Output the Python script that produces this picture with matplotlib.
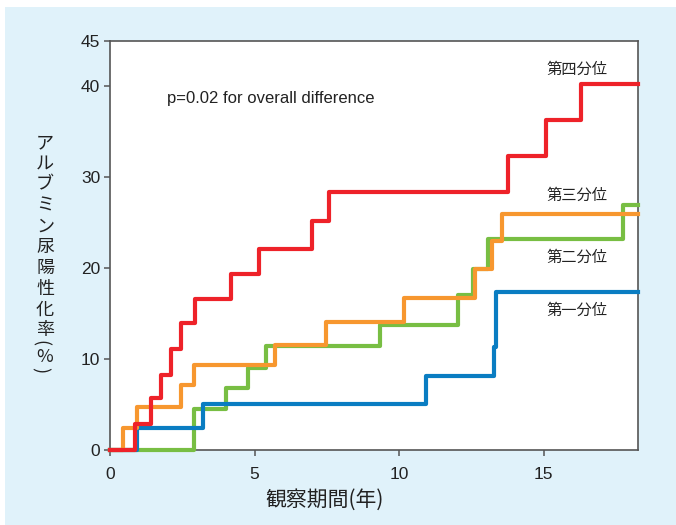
import matplotlib
matplotlib.use("Agg")
import matplotlib.pyplot as plt
from matplotlib.patches import Rectangle

# 観察期間(年) と アルブミン尿陽性化率(%) -- 読み取り値
red_t = [0, 0.86, 1.43, 1.75, 2.10, 2.47, 2.93, 4.18, 5.17, 6.97, 7.56, 13.76, 15.07, 16.29, 18.26]
red_y = [0, 2.9, 5.7, 8.3, 11.1, 14.0, 16.6, 19.4, 22.1, 25.2, 28.4, 32.4, 36.3, 40.3, 40.3]

orange_t = [0, 0.45, 0.95, 2.45, 2.89, 5.70, 7.47, 10.16, 12.61, 13.21, 13.55, 18.26]
orange_y = [0, 2.4, 4.75, 7.1, 9.3, 11.6, 14.1, 16.7, 19.9, 23.0, 26.0, 26.0]

green_t = [0, 2.91, 4.01, 4.78, 5.39, 9.35, 12.05, 12.57, 13.07, 17.75, 18.26]
green_y = [0, 4.5, 6.8, 9.0, 11.4, 13.8, 17.0, 19.9, 23.2, 27.0, 27.0]

blue_t = [0, 0.95, 3.2, 10.93, 13.27, 13.36, 18.26]
blue_y = [0, 2.45, 5.1, 8.15, 11.3, 17.4, 17.4]

labels = ["第四分位", "第三分位", "第二分位", "第一分位"]
label_y = [41.9, 28.0, 21.2, 15.35]
ylabel = "アルブミン尿陽性化率(%)"
xlabel = "観察期間(年)"
ptext = "p=0.02 for overall difference"

jp = ["Noto Sans CJK JP", "DejaVu Sans"]
lat = ["Liberation Sans", "DejaVu Sans"]

fig = plt.figure(figsize=(6.76, 5.25), dpi=100, facecolor="white")
# 水色の背景
bg = Rectangle((5 / 676, 0), 1, 1 - 7 / 525, transform=fig.transFigure,
               facecolor="#E0F2FA", edgecolor="none", zorder=-10)
fig.patches.append(bg)

ax = fig.add_axes([110 / 676, 75 / 525, 528 / 676, 409 / 525])
ax.set_facecolor("white")
ax.set_zorder(1)

lw = 3.0
ax.step(green_t, green_y, where="post", color="#78BE43", lw=lw, clip_on=False, zorder=3)
ax.step(blue_t, blue_y, where="post", color="#0A7DC2", lw=lw, clip_on=False, zorder=4)
ax.step(orange_t, orange_y, where="post", color="#F7972F", lw=lw, clip_on=False, zorder=5)
ax.step(red_t, red_y, where="post", color="#EE2229", lw=lw, clip_on=False, zorder=6)

ax.set_xlim(0, 18.26)
ax.set_ylim(0, 45)
ax.set_xticks([0, 5, 10, 15])
ax.set_yticks([0, 10, 20, 30, 40, 45])
for sp in ax.spines.values():
    sp.set_color("#555555")
    sp.set_linewidth(1.2)
ax.tick_params(direction="out", length=4, width=1.1, color="#555555",
               labelsize=12.5, labelcolor="#222222")
ax.tick_params(axis="x", pad=8)
ax.tick_params(axis="y", pad=3)
for t in ax.get_xticklabels() + ax.get_yticklabels():
    t.set_family(lat)

ax.text(1.97, 38.7, ptext, fontsize=12, family=lat, color="#222222", va="center")

for s, yy in zip(labels, label_y):
    ax.text(16.14, yy, s, fontsize=11, family=jp, color="#222222",
            ha="center", va="center")

# 縦書きのY軸ラベル (文字ごとの行送り, px) 括弧は90度回転
step_px = [0] + [20.8] * 9 + [13, 14, 13]
ypos = 143
for ch, d in zip(ylabel, step_px):
    ypos += d
    rot = 0
    xpx = 45
    if ch in "()":
        rot = -90
        xpx = 40
    fig.text(xpx / 676, 1 - ypos / 525, ch, fontsize=13, family=jp,
             color="#222222", ha="center", va="center", rotation=rot,
             rotation_mode="anchor")

fig.text(325 / 676, 1 - 500 / 525, xlabel, fontsize=15, family=jp,
         color="#222222", ha="center", va="center")

fig.savefig("out.png", dpi=100, facecolor=fig.get_facecolor())
